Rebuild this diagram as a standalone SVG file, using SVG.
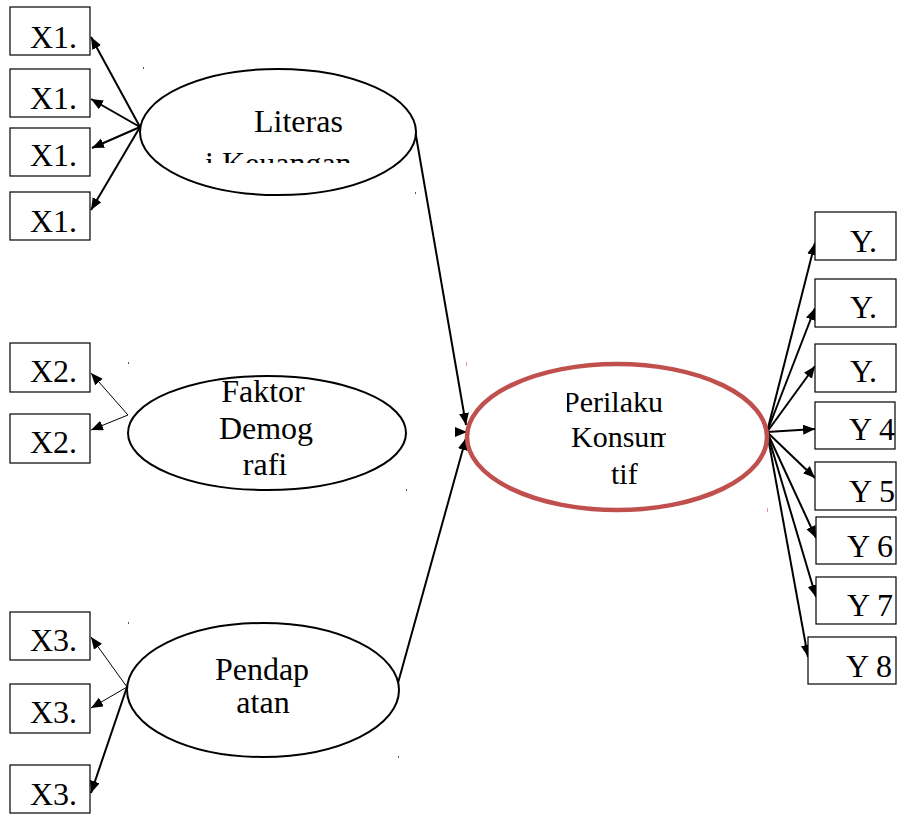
<svg xmlns="http://www.w3.org/2000/svg" width="899" height="815" viewBox="0 0 899 815">
<style>
  .box{fill:#fff;stroke:#000;stroke-width:1.2}
  .t{font-family:"Liberation Serif","Times New Roman",serif;font-size:32px;fill:#000}
  .ell{fill:#fff;stroke:#000;stroke-width:2}
  .ln{fill:none;stroke:#000;stroke-width:2;marker-end:url(#ah)}
  .thin{fill:none;stroke:#000;stroke-width:1;marker-end:url(#ah)}
  .dot{fill:#555}
  .rdot{fill:#d99}
</style>
<defs>
  <marker id="ah" markerUnits="userSpaceOnUse" markerWidth="13" markerHeight="11" refX="12" refY="5" orient="auto">
    <path d="M0,0 L12,5 L0,10 z" fill="#000"/>
  </marker>
  <clipPath id="clipLit"><rect x="140" y="60" width="280" height="103"/></clipPath>
  <clipPath id="clipPer"><rect x="567" y="370" width="99" height="130"/></clipPath>
</defs>

<g id="connectors">
  <line class="ln" x1="140" y1="127" x2="91" y2="37"/>
  <line class="ln" x1="140" y1="127" x2="91" y2="99"/>
  <line class="ln" x1="140" y1="127" x2="92" y2="148"/>
  <line class="ln" x1="140" y1="127" x2="91" y2="210"/>
  <line class="thin" x1="128" y1="415" x2="91" y2="373"/>
  <line class="thin" x1="128" y1="415" x2="91" y2="430"/>
  <line class="thin" x1="127" y1="687" x2="91" y2="637"/>
  <line class="thin" x1="127" y1="687" x2="91" y2="708"/>
  <line class="ln" x1="127" y1="687" x2="91" y2="793"/>
  <line class="ln" x1="415" y1="130" x2="466" y2="425"/>
  <line class="ln" x1="460" y1="432" x2="467" y2="432"/>
  <line class="ln" x1="398" y1="683" x2="466" y2="438"/>
  <line class="ln" x1="767" y1="432" x2="815" y2="243"/>
  <line class="ln" x1="767" y1="432" x2="815" y2="308"/>
  <line class="ln" x1="767" y1="432" x2="815" y2="366"/>
  <line class="ln" x1="767" y1="432" x2="815" y2="429"/>
  <line class="ln" x1="767" y1="432" x2="815" y2="478"/>
  <line class="ln" x1="767" y1="432" x2="816" y2="538"/>
  <line class="ln" x1="767" y1="432" x2="816" y2="597"/>
  <line class="ln" x1="767" y1="432" x2="808" y2="657"/>
</g>

<g id="X1_1"><rect class="box" x="10" y="7" width="80" height="48"/><text class="t" x="30" y="48">X1.</text></g>
<g id="X1_2"><rect class="box" x="10" y="69" width="80" height="48"/><text class="t" x="30" y="109">X1.</text></g>
<g id="X1_3"><rect class="box" x="10" y="128" width="80" height="48"/><text class="t" x="30" y="166">X1.</text></g>
<g id="X1_4"><rect class="box" x="10" y="192" width="80" height="48"/><text class="t" x="30" y="232">X1.</text></g>

<g id="X2_1"><rect class="box" x="10" y="343" width="80" height="49"/><text class="t" x="30" y="382">X2.</text></g>
<g id="X2_2"><rect class="box" x="10" y="414" width="80" height="49"/><text class="t" x="30" y="453">X2.</text></g>

<g id="X3_1"><rect class="box" x="10" y="612" width="80" height="48"/><text class="t" x="30" y="651">X3.</text></g>
<g id="X3_2"><rect class="box" x="10" y="684" width="80" height="49"/><text class="t" x="30" y="723">X3.</text></g>
<g id="X3_3"><rect class="box" x="10" y="765" width="80" height="48"/><text class="t" x="30" y="805">X3.</text></g>

<g id="Literasi">
  <ellipse class="ell" cx="278" cy="132" rx="138" ry="63"/>
  <g clip-path="url(#clipLit)">
    <text class="t" x="254" y="132">Literas</text>
    <text class="t" x="205" y="174">i Keuangan</text>
  </g>
</g>

<g id="Demografi">
  <ellipse class="ell" cx="267" cy="433" rx="139" ry="57"/>
  <text class="t" text-anchor="middle" x="263" y="402">Faktor</text>
  <text class="t" text-anchor="middle" x="266" y="439">Demog</text>
  <text class="t" text-anchor="middle" x="265" y="475">rafi</text>
</g>

<g id="Pendapatan">
  <ellipse class="ell" cx="263" cy="690" rx="136" ry="67"/>
  <text class="t" text-anchor="middle" x="262" y="680">Pendap</text>
  <text class="t" text-anchor="middle" x="263" y="713">atan</text>
</g>

<g id="Perilaku">
  <ellipse cx="617" cy="437" rx="150" ry="73" fill="#fff" stroke="#C0504D" stroke-width="4.5"/>
  <g clip-path="url(#clipPer)">
    <text class="t" style="font-size:30px" x="563" y="412">Perilaku</text>
    <text class="t" style="font-size:30px" x="571" y="447">Konsum</text>
    <text class="t" style="font-size:30px" x="611" y="484">tif</text>
  </g>
</g>

<g id="Y1"><rect class="box" x="815" y="212" width="81" height="48"/><text class="t" x="850" y="252">Y.</text></g>
<g id="Y2"><rect class="box" x="815" y="279" width="81" height="48"/><text class="t" x="850" y="318">Y.</text></g>
<g id="Y3"><rect class="box" x="815" y="344" width="81" height="48"/><text class="t" x="850" y="382">Y.</text></g>
<g id="Y4"><rect class="box" x="815" y="402" width="80" height="47"/><text class="t" x="849" y="440">Y 4</text></g>
<g id="Y5"><rect class="box" x="815" y="462" width="81" height="48"/><text class="t" x="849" y="502">Y 5</text></g>
<g id="Y6"><rect class="box" x="816" y="517" width="80" height="47"/><text class="t" x="847" y="557">Y 6</text></g>
<g id="Y7"><rect class="box" x="816" y="577" width="80" height="47"/><text class="t" x="847" y="616">Y 7</text></g>
<g id="Y8"><rect class="box" x="808" y="637" width="88" height="47"/><text class="t" x="846" y="677">Y 8</text></g>

<g id="marks">
  <rect class="dot" x="143" y="67" width="1" height="2"/>
  <rect class="dot" x="415" y="192" width="1" height="2"/>
  <rect class="dot" x="128" y="362" width="1" height="2"/>
  <rect class="dot" x="406" y="489" width="1" height="2"/>
  <rect class="dot" x="128" y="622" width="1" height="2"/>
  <rect class="dot" x="398" y="756" width="1" height="2"/>
  <rect class="rdot" x="466" y="362" width="1" height="4"/>
  <rect class="rdot" x="767" y="508" width="1" height="4"/>
</g>
</svg>
